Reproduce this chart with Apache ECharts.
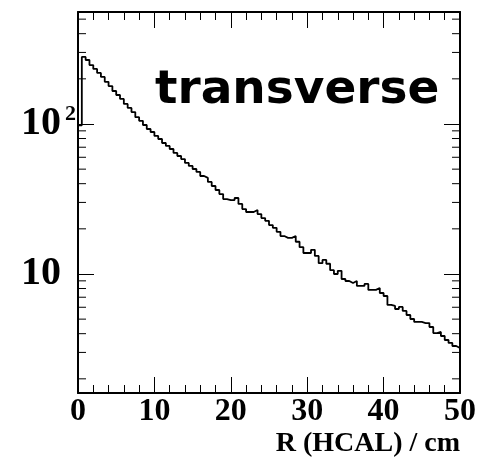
<!DOCTYPE html>
<html>
<head>
<meta charset="utf-8">
<script src="https://cdn.jsdelivr.net/npm/echarts@6/dist/echarts.min.js"></script>
<style>
  html, body { margin: 0; padding: 0; background: #fff; }
  #chart { width: 480px; height: 460px; }
</style>
</head>
<body>
<div id="chart"></div>
<script>
// Transverse shower profile in the HCAL: counts per 0.5 cm bin of R
const binWidth = 0.5;
const counts = [
  98, 280, 267, 247, 233, 219, 206, 191, 179, 166,
  156, 147, 136, 128, 120, 111, 105, 98.5, 92.6, 88.4,
  83.2, 79.4, 74.7, 71.4, 68.1, 64.1, 61.2, 58.4, 55.0, 52.5,
  50.1, 47.9, 45.0, 43.7, 41.1, 38.6, 36.3, 34.1, 31.6, 31.1,
  31.1, 32.1, 29.3, 27.1, 25.9, 25.9, 26.7, 25.1, 23.6, 22.6,
  21.2, 20.3, 19.1, 17.9, 17.4, 17.4, 17.9, 16.4, 15.1, 13.8,
  13.8, 14.5, 13.2, 11.8, 12.4, 11.7, 10.6, 10.0, 10.5, 9.26,
  8.98, 8.71, 8.98, 8.32, 8.32, 8.58, 7.83, 7.83, 8.07, 7.47,
  7.13, 6.22, 6.12, 5.84, 6.03, 5.67, 5.33, 5.01, 4.79, 4.79,
  4.71, 4.71, 4.43, 4.04, 4.11, 3.86, 3.63, 3.47, 3.31, 3.21
];

// Axis ranges and tick values
const xRange = [0, 50];
const xMajorStep = 10;
const yRange = [1.609, 558];
const yMajorTicks = [10, 100];
const yMinorTicks = [2, 3, 4, 5, 6, 7, 8, 9, 20, 30, 40, 50, 60, 70, 80, 90, 200, 300, 400, 500];

const xTitle = 'R (HCAL) / cm';
const panelLabel = 'transverse';

// Step outline: each point is a bin's lower edge, closed at the upper edge of the last bin
const histData = counts.map((v, i) => [i * binWidth, v]);
histData.push([counts.length * binWidth, counts[counts.length - 1]]);

const serif = '"Liberation Serif", "Times New Roman", serif';

function xAxisCfg(pos) {
  return {
    type: 'value', position: pos,
    min: xRange[0], max: xRange[1], interval: xMajorStep,
    axisLine: { show: true, onZero: false, lineStyle: { color: '#000', width: 2 } },
    axisTick: { show: true, inside: true, length: 16, lineStyle: { color: '#000', width: 1 } },
    minorTick: { show: true, splitNumber: 5, length: 8, lineStyle: { color: '#000', width: 1 } },
    splitLine: { show: false },
    minorSplitLine: { show: false },
    axisLabel: pos === 'bottom' ? {
      show: true, margin: 3, color: '#000',
      fontFamily: serif, fontWeight: 'bold', fontSize: 32
    } : { show: false },
    name: pos === 'bottom' ? xTitle : '',
    nameLocation: 'end', nameGap: 0,
    nameTextStyle: {
      fontFamily: serif, fontWeight: 'bold', fontSize: 28, color: '#000',
      align: 'right', verticalAlign: 'top', padding: [37, 0, 0, 0]
    }
  };
}

function yAxisCfg(pos) {
  return {
    type: 'log', logBase: 10, position: pos,
    min: yRange[0], max: yRange[1],
    axisLine: { show: true, onZero: false, lineStyle: { color: '#000', width: 2 } },
    axisTick: { show: true, inside: true, length: 16, lineStyle: { color: '#000', width: 1 } },
    splitLine: { show: false },
    axisLabel: pos === 'left' ? {
      show: true, margin: 1, color: '#000',
      showMinLabel: false, showMaxLabel: false,
      formatter: function (v) {
        const r = Math.round(v);
        if (r === yMajorTicks[1]) return '{b|10}{s|2}';
        if (r === yMajorTicks[0]) return '{b|10}{pad| }';
        return '';
      },
      rich: {
        b: { fontFamily: serif, fontWeight: 'bold', fontSize: 40, color: '#000' },
        s: { fontFamily: serif, fontWeight: 'bold', fontSize: 22, color: '#000', padding: [0, 1, 20, 4] },
        pad: { fontSize: 10, width: 16 }
      }
    } : { show: false }
  };
}

const chart = echarts.init(document.getElementById('chart'), null, { renderer: 'canvas' });

chart.setOption({
  backgroundColor: '#fff',
  animation: false,
  grid: { left: 78, right: 20, top: 12, bottom: 67, containLabel: false },
  xAxis: [xAxisCfg('bottom'), xAxisCfg('top')],
  yAxis: [yAxisCfg('left'), yAxisCfg('right')],
  graphic: [{
    type: 'text', left: 155, top: 67, z: 10,
    style: {
      text: panelLabel,
      font: 'bold 47px "Comic Sans MS", "DejaVu Sans", sans-serif',
      fill: '#000'
    }
  }],
  series: [
    {
      type: 'line', step: 'end', xAxisIndex: 0, yAxisIndex: 0,
      data: histData, showSymbol: false, symbol: 'none',
      lineStyle: { color: '#000', width: 1.8 },
      clip: true, silent: true
    },
    {
      // minor log ticks on the left and right frame edges
      type: 'custom', xAxisIndex: 0, yAxisIndex: 0, silent: true,
      data: yMinorTicks.map(v => [xRange[0], v]),
      renderItem: function (params, api) {
        const v = api.value(1);
        const pl = api.coord([xRange[0], v]);
        const pr = api.coord([xRange[1], v]);
        return {
          type: 'group',
          children: [
            { type: 'line', shape: { x1: pl[0], y1: pl[1], x2: pl[0] + 8, y2: pl[1] }, style: { stroke: '#000', lineWidth: 1 } },
            { type: 'line', shape: { x1: pr[0], y1: pr[1], x2: pr[0] - 8, y2: pr[1] }, style: { stroke: '#000', lineWidth: 1 } }
          ]
        };
      }
    }
  ]
});
</script>
</body>
</html>
